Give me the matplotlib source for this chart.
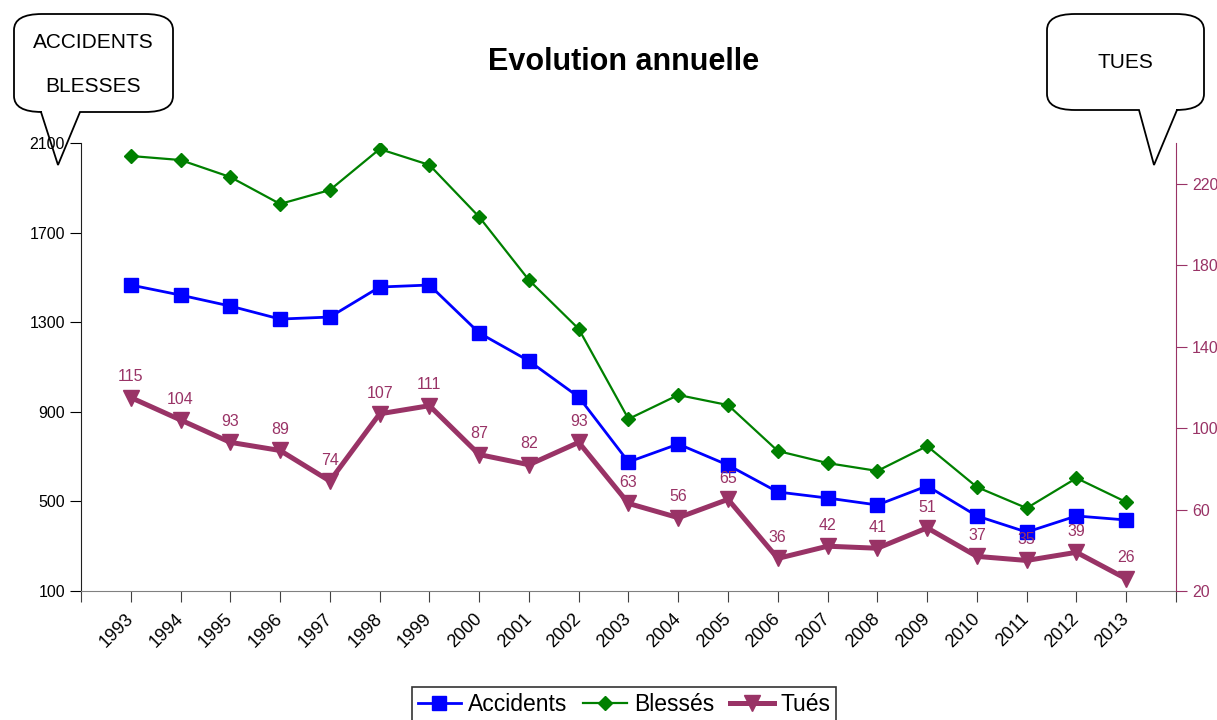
import matplotlib
matplotlib.use("Agg")
import matplotlib.pyplot as plt
from matplotlib.path import Path
from matplotlib.patches import PathPatch

plt.rcParams['font.family'] = ['Liberation Sans', 'DejaVu Sans']

annees = [str(a) for a in range(1993, 2014)]
accidents = [1466, 1421, 1372, 1314, 1323, 1457, 1466, 1252, 1127, 966, 676,
             756, 662, 542, 515, 484, 569, 435, 363, 435, 417]
blesses = [2042, 2024, 1948, 1828, 1890, 2073, 2002, 1770, 1488, 1270, 868,
           975, 930, 725, 671, 636, 747, 564, 470, 604, 497]
tues = [115, 104, 93, 89, 74, 107, 111, 87, 82, 93, 63, 56, 65, 36, 42, 41,
        51, 37, 35, 39, 26]

BLEU = '#0000FF'
VERT = '#008000'
BORDEAUX = '#993366'


def callout(ax, x0, y0, x1, y1, bx0, bx1, tip, rx=28, ry=16):
    # bulle arrondie avec une pointe, coordonnees en pixels (y vers le bas)
    v = [(x0 + rx, y0), (x1 - rx, y0), (x1, y0), (x1, y0 + ry),
         (x1, y1 - ry), (x1, y1), (x1 - rx, y1),
         (bx1, y1), tip, (bx0, y1),
         (x0 + rx, y1), (x0, y1), (x0, y1 - ry),
         (x0, y0 + ry), (x0, y0), (x0 + rx, y0), (x0 + rx, y0)]
    c = [Path.MOVETO, Path.LINETO, Path.CURVE3, Path.CURVE3,
         Path.LINETO, Path.CURVE3, Path.CURVE3,
         Path.LINETO, Path.LINETO, Path.LINETO,
         Path.LINETO, Path.CURVE3, Path.CURVE3,
         Path.LINETO, Path.CURVE3, Path.CURVE3, Path.CLOSEPOLY]
    ax.add_patch(PathPatch(Path(v, c), facecolor='none', edgecolor='black', lw=1.3))


def tracer():
    fig = plt.figure(figsize=(12.17, 7.2), dpi=100)
    ax = fig.add_axes([81 / 1217, 1 - 591 / 720, (1176 - 81) / 1217, (591 - 143) / 720])
    ax2 = ax.twinx()

    x = list(range(len(annees)))
    ax.plot(x, accidents, color=BLEU, lw=2, marker='s', ms=9.5, label='Accidents')
    ax.plot(x, blesses, color=VERT, lw=1.6, marker='D', ms=7.5, label='Blessés')
    ax2.plot(x, tues, color=BORDEAUX, lw=3.6, marker='v', ms=11, label='Tués')
    for i, v in enumerate(tues):
        ax2.annotate(str(v), (i, v), xytext=(0, 15), textcoords='offset points',
                     ha='center', va='center', fontsize=11.5, color=BORDEAUX)

    ax.set_xlim(-1, len(annees))
    ax.set_ylim(100, 2100)
    ax2.set_ylim(20, 240)
    ax.set_yticks([100, 500, 900, 1300, 1700, 2100])
    ax2.set_yticks([20, 60, 100, 140, 180, 220])

    ax.set_xticks(range(-1, len(annees) + 1))
    ax.set_xticklabels([''] + annees + [''], rotation=45, ha='right',
                       va='center', rotation_mode='anchor')
    ax.tick_params(axis='x', direction='out', length=8, pad=10, labelsize=13,
                   color='#404040')
    ax.tick_params(axis='y', direction='out', length=8, labelsize=11.5)
    ax2.tick_params(axis='y', direction='out', length=8, labelsize=11.5,
                    colors=BORDEAUX)

    for a in (ax, ax2):
        a.spines['top'].set_visible(False)
    ax.spines['right'].set_visible(False)
    ax2.spines['left'].set_visible(False)
    ax2.spines['bottom'].set_visible(False)
    ax2.spines['right'].set_color(BORDEAUX)
    ax.spines['bottom'].set_color('#808080')
    ax.spines['left'].set_color('#202020')

    h1, l1 = ax.get_legend_handles_labels()
    h2, l2 = ax2.get_legend_handles_labels()
    leg = fig.legend(h1 + h2, l1 + l2, loc='upper center', ncol=3,
                     bbox_to_anchor=(624 / 1217, 1 - 687 / 720), fontsize=16.5,
                     frameon=True, fancybox=False, edgecolor='black',
                     handlelength=1.9, handletextpad=0.3, columnspacing=0.7,
                     borderpad=0.25, borderaxespad=0)
    leg.get_frame().set_linewidth(1.2)

    # calque en pixels pour le titre et les bulles
    over = fig.add_axes([0, 0, 1, 1], facecolor='none')
    over.set_xlim(0, 1217)
    over.set_ylim(720, 0)
    over.axis('off')
    over.text(624, 62, 'Evolution annuelle', ha='center', va='center',
              fontsize=22, fontweight='bold')
    callout(over, 14, 14, 173, 112, 41, 80, (58, 165))
    over.text(93, 42, 'ACCIDENTS', ha='center', va='center', fontsize=15)
    over.text(93, 87, 'BLESSES', ha='center', va='center', fontsize=15)
    callout(over, 1047, 14, 1204, 110, 1139, 1177, (1154, 165))
    over.text(1125, 62, 'TUES', ha='center', va='center', fontsize=15)

    fig.savefig('out.png', dpi=100)


if __name__ == '__main__':
    tracer()
